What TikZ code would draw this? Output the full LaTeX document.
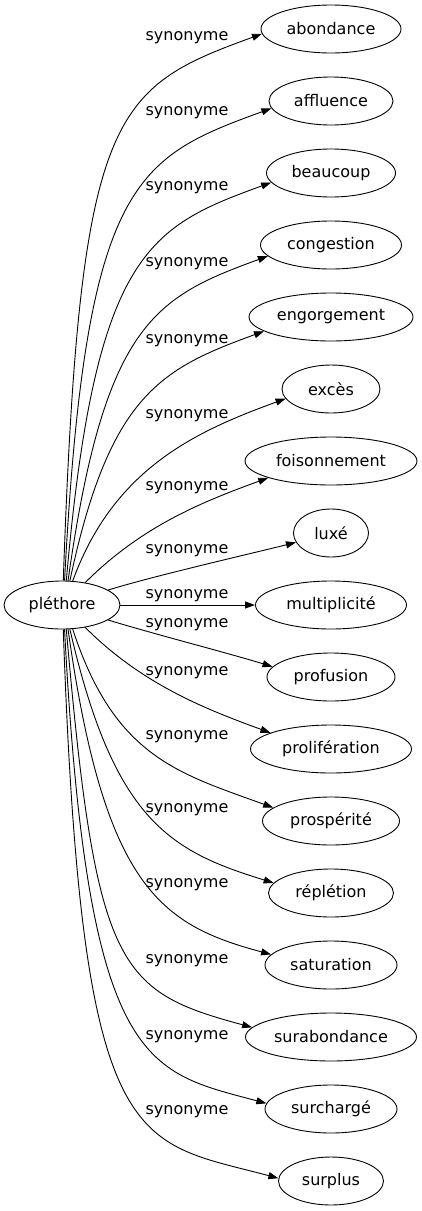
\documentclass[tikz,border=0pt]{standalone}
\usepackage{fontspec}
\setmainfont{DejaVu Sans}
\usetikzlibrary{shapes.geometric,arrows.meta}

\begin{document}
\begin{tikzpicture}[x=1pt,y=1pt,
  word/.style={draw, ellipse, line width=0.9pt, minimum height=48, inner sep=0pt, font=\fontsize{16}{19}\selectfont},
  rel/.style={line width=0.9pt, -{Triangle[length=10pt,width=7pt]}},
  reltext/.style={anchor=base, inner sep=0pt, font=\fontsize{16}{19}\selectfont}]
\useasboundingbox (0,0) rectangle (422,-1211);
% words
\node [word, minimum width=116] (plethore) at (62,-605) {pléthore};
\node [word, minimum width=140] (abondance) at (331,-29) {abondance};
\node [word, minimum width=124] (affluence) at (331,-101) {affluence};
\node [word, minimum width=129] (beaucoup) at (331,-173) {beaucoup};
\node [word, minimum width=141] (congestion) at (331,-245) {congestion};
\node [word, minimum width=164] (engorgement) at (331,-317) {engorgement};
\node [word, minimum width=98] (exces) at (331,-389) {excès};
\node [word, minimum width=172] (foisonnement) at (331,-461) {foisonnement};
\node [word, minimum width=75] (luxe) at (331,-533) {luxé};
\node [word, minimum width=151] (multiplicite) at (331,-605) {multiplicité};
\node [word, minimum width=128] (profusion) at (331,-677) {profusion};
\node [word, minimum width=161] (proliferation) at (331,-749) {prolifération};
\node [word, minimum width=137] (prosperite) at (331,-821) {prospérité};
\node [word, minimum width=125] (repletion) at (331,-893) {réplétion};
\node [word, minimum width=132] (saturation) at (331,-965) {saturation};
\node [word, minimum width=171] (surabondance) at (331,-1037) {surabondance};
\node [word, minimum width=132] (surcharge) at (331,-1109) {surchargé};
\node [word, minimum width=105] (surplus) at (331,-1181) {surplus};
% synonyme edges
\draw [rel] (plethore.87) .. controls +(88:470) and +(200:160) .. (abondance.184) node [reltext] at (187,-40) {synonyme};
\draw [rel] (plethore.84) .. controls +(87:400) and +(200:145) .. (affluence.187) node [reltext] at (187,-115) {synonyme};
\draw [rel] (plethore.80) .. controls +(85:330) and +(200:130) .. (beaucoup.189) node [reltext] at (187,-190) {synonyme};
\draw [rel] (plethore.76) .. controls +(82:260) and +(200:120) .. (congestion.190) node [reltext] at (187,-266) {synonyme};
\draw [rel] (plethore.72) .. controls +(78:190) and +(200:110) .. (engorgement.192) node [reltext] at (187,-343) {synonyme};
\draw [rel] (plethore.66) .. controls +(70:120) and +(200:95) .. (exces.192) node [reltext] at (187,-418) {synonyme};
\draw [rel] (plethore.44) .. controls +(45:80) and +(200:70) .. (foisonnement.195) node [reltext] at (187,-490) {synonyme};
\draw [rel] (plethore.18) .. controls +(17:50) and +(194:50) .. (luxe.195) node [reltext] at (187,-553) {synonyme};
\draw [rel] (plethore.east) -- (multiplicite.west) node [reltext] at (187,-598) {synonyme};
\draw [rel] (plethore.-18) .. controls +(-17:50) and +(163:50) .. (profusion.170) node [reltext] at (187,-627) {synonyme};
\draw [rel] (plethore.-44) .. controls +(-45:80) and +(160:70) .. (proliferation.165) node [reltext] at (187,-675) {synonyme};
\draw [rel] (plethore.-66) .. controls +(-72:135) and +(160:100) .. (prosperite.167) node [reltext] at (187,-739) {synonyme};
\draw [rel] (plethore.-72) .. controls +(-77:195) and +(163:110) .. (repletion.170) node [reltext] at (187,-812) {synonyme};
\draw [rel] (plethore.-76) .. controls +(-82:260) and +(165:115) .. (saturation.170) node [reltext] at (187,-887) {synonyme};
\draw [rel] (plethore.-80) .. controls +(-85:340) and +(165:140) .. (surabondance.173) node [reltext] at (187,-963) {synonyme};
\draw [rel] (plethore.-84) .. controls +(-87:440) and +(165:125) .. (surcharge.175) node [reltext] at (187,-1039) {synonyme};
\draw [rel] (plethore.-87) .. controls +(-88:530) and +(165:150) .. (surplus.177) node [reltext] at (187,-1114) {synonyme};
\end{tikzpicture}
\end{document}
